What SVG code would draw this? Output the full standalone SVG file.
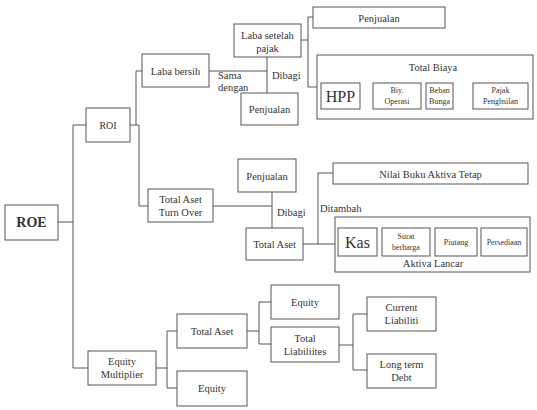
<svg xmlns="http://www.w3.org/2000/svg" width="537" height="410" viewBox="0 0 537 410">
  <style>
    .box { fill: #fff; stroke: #555; stroke-width: 1; }
    .con { fill: none; stroke: #555; stroke-width: 1; }
    text { fill: #333; text-anchor: middle; font-size: 10.5px; }
    .sm { font-size: 8px; }
    .big { font-size: 16px; }
    .lbl { text-anchor: start; }
  </style>
  <rect width="537" height="410" fill="#fff"/>

  <!-- connectors -->
  <g id="connectors" class="con">
    <!-- ROE to ROI / Equity Multiplier -->
    <polyline points="58,222 73,222"/>
    <polyline points="86,125 73,125 73,368 88,368"/>
    <!-- ROI to Laba bersih / Total Aset Turn Over -->
    <polyline points="130,125 139,125 139,206 148,206"/>
    <polyline points="136,125 136,71 142,71"/>
    <!-- Laba bersih = Laba setelah pajak / Penjualan -->
    <polyline points="209,71 267,71"/>
    <polyline points="267,57 267,93"/>
    <!-- Laba setelah pajak to Penjualan / Total Biaya -->
    <polyline points="301,40 308,40"/>
    <polyline points="313,17 308,17 308,87 317,87"/>
    <!-- Total Aset Turn Over = Penjualan / Total Aset -->
    <polyline points="213,206 272,206"/>
    <polyline points="272,192 272,228"/>
    <!-- Total Aset to Nilai Buku / Aktiva Lancar -->
    <polyline points="303,244 335,244"/>
    <polyline points="318,244 318,173 333,173"/>
    <!-- Equity Multiplier branches -->
    <polyline points="156,368 167,368"/>
    <polyline points="177,331 167,331 167,388 177,388"/>
    <!-- Total Aset (lower) branches -->
    <polyline points="247,331 259,331"/>
    <polyline points="271,302 259,302 259,344 271,344"/>
    <!-- Total Liabiliites branches -->
    <polyline points="339,345 353,345"/>
    <polyline points="367,314 353,314 353,370 367,370"/>
  </g>

  <g font-family="'Liberation Serif', 'DejaVu Serif', 'Times New Roman', serif">
  <g id="roe">
    <rect class="box" x="5" y="205" width="53" height="35"/>
    <text x="31.5" y="227" style="font-size:14px;font-weight:bold">ROE</text>
  </g>
  <g id="roi">
    <rect class="box" x="86" y="108" width="44" height="34"/>
    <text x="108" y="128.5" style="font-size:10px">ROI</text>
  </g>
  <g id="laba-bersih">
    <rect class="box" x="142" y="54" width="67" height="33"/>
    <text x="175.5" y="75">Laba bersih</text>
  </g>
  <g id="laba-setelah-pajak">
    <rect class="box" x="234" y="24" width="67" height="33"/>
    <text x="267.5" y="39">Laba setelah</text>
    <text x="267.5" y="52">pajak</text>
  </g>
  <g id="label-sama-dengan">
    <text class="lbl" x="218" y="79">Sama</text>
    <text class="lbl" x="218" y="91">dengan</text>
  </g>
  <g id="label-dibagi-1">
    <text class="lbl" x="272" y="79">Dibagi</text>
  </g>
  <g id="penjualan-1">
    <rect class="box" x="241" y="93" width="57" height="32"/>
    <text x="269.5" y="113">Penjualan</text>
  </g>
  <g id="penjualan-top">
    <rect class="box" x="313" y="7" width="132" height="21"/>
    <text x="379" y="21.5">Penjualan</text>
  </g>
  <g id="total-biaya">
    <rect class="box" x="317" y="55" width="216" height="64"/>
    <text x="433" y="71">Total Biaya</text>
  </g>
  <g id="hpp">
    <rect class="box" x="321" y="83" width="39" height="26"/>
    <text class="big" x="340.5" y="101.5">HPP</text>
  </g>
  <g id="biy-operasi">
    <rect class="box" x="373" y="83" width="48" height="26"/>
    <text class="sm" x="397" y="93">Biy.</text>
    <text class="sm" x="397" y="104">Operasi</text>
  </g>
  <g id="beban-bunga">
    <rect class="box" x="426" y="83" width="27" height="26"/>
    <text class="sm" x="439.5" y="93">Beban</text>
    <text class="sm" x="439.5" y="104">Bunga</text>
  </g>
  <g id="pajak-penghsilan">
    <rect class="box" x="473" y="83" width="55" height="26"/>
    <text class="sm" x="500.5" y="93">Pajak</text>
    <text class="sm" x="500.5" y="104">Penghsilan</text>
  </g>
  <g id="penjualan-2">
    <rect class="box" x="238" y="159" width="58" height="33"/>
    <text x="267" y="179.5">Penjualan</text>
  </g>
  <g id="total-aset-turn-over">
    <rect class="box" x="148" y="189" width="65" height="33"/>
    <text x="180.5" y="203">Total Aset</text>
    <text x="180.5" y="216">Turn Over</text>
  </g>
  <g id="label-dibagi-2">
    <text class="lbl" x="277" y="216">Dibagi</text>
  </g>
  <g id="total-aset-1">
    <rect class="box" x="246" y="228" width="57" height="32"/>
    <text x="274.5" y="248">Total Aset</text>
  </g>
  <g id="label-ditambah">
    <text class="lbl" x="320" y="212">Ditambah</text>
  </g>
  <g id="nilai-buku">
    <rect class="box" x="333" y="163" width="195" height="21"/>
    <text x="430.5" y="177.5">Nilai Buku Aktiva Tetap</text>
  </g>
  <g id="aktiva-lancar">
    <rect class="box" x="335" y="217" width="195" height="55"/>
    <text x="433" y="267">Aktiva Lancar</text>
  </g>
  <g id="kas">
    <rect class="box" x="338" y="228" width="39" height="28"/>
    <text class="big" x="357.5" y="247.5">Kas</text>
  </g>
  <g id="surat-berharga">
    <rect class="box" x="382" y="228" width="48" height="28"/>
    <text class="sm" x="406" y="239">Surat</text>
    <text class="sm" x="406" y="250">berharga</text>
  </g>
  <g id="piutang">
    <rect class="box" x="435" y="228" width="42" height="28"/>
    <text class="sm" x="456" y="245">Piutang</text>
  </g>
  <g id="persediaan">
    <rect class="box" x="481" y="228" width="46" height="28"/>
    <text class="sm" x="504" y="245">Persediaan</text>
  </g>
  <g id="equity-multiplier">
    <rect class="box" x="88" y="351" width="68" height="34"/>
    <text x="122" y="365">Equity</text>
    <text x="122" y="378">Multiplier</text>
  </g>
  <g id="total-aset-2">
    <rect class="box" x="177" y="314" width="70" height="34"/>
    <text x="212" y="335">Total Aset</text>
  </g>
  <g id="equity-1">
    <rect class="box" x="177" y="371" width="70" height="35"/>
    <text x="212" y="392">Equity</text>
  </g>
  <g id="equity-2">
    <rect class="box" x="271" y="285" width="68" height="34"/>
    <text x="305" y="306">Equity</text>
  </g>
  <g id="total-liabiliites">
    <rect class="box" x="271" y="327" width="68" height="35"/>
    <text x="305" y="342">Total</text>
    <text x="305" y="355">Liabiliites</text>
  </g>
  <g id="current-liabiliti">
    <rect class="box" x="367" y="297" width="69" height="34"/>
    <text x="401.5" y="311">Current</text>
    <text x="401.5" y="324">Liabiliti</text>
  </g>
  <g id="long-term-debt">
    <rect class="box" x="367" y="354" width="69" height="34"/>
    <text x="401.5" y="368">Long term</text>
    <text x="401.5" y="381">Debt</text>
  </g>
  </g>
</svg>
